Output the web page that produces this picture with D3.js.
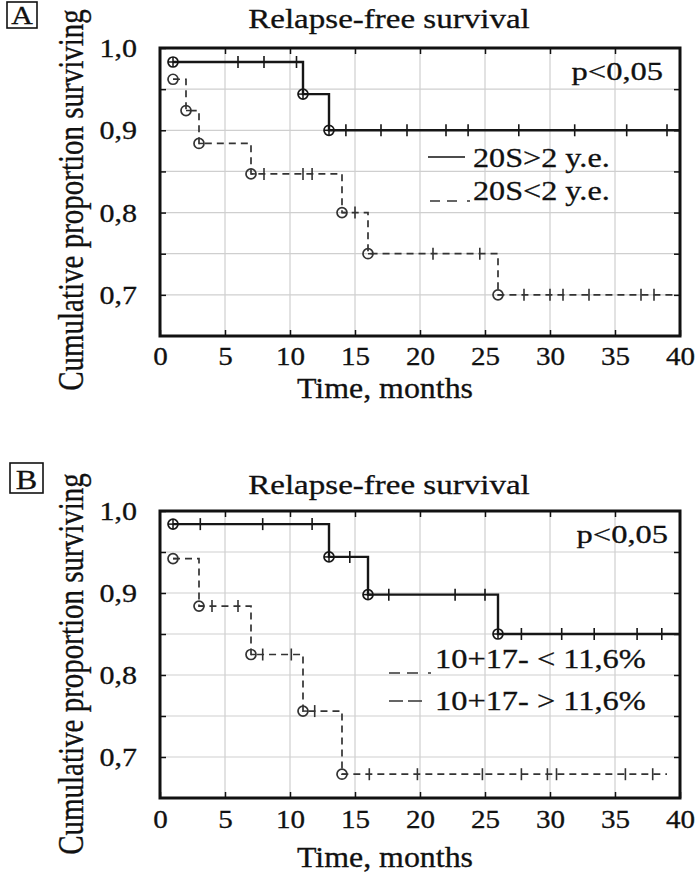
<!DOCTYPE html>
<html><head><meta charset="utf-8">
<script src="https://cdn.jsdelivr.net/npm/d3@7"></script>
<style>body{margin:0;background:#fff} svg{display:block} text{stroke:#111;stroke-width:0.3px}</style>
</head><body>
<script>
// ---------- data ----------
const timeTicks = [0, 5, 10, 15, 20, 25, 30, 35, 40];
const gridY = [0.7, 0.75, 0.8, 0.85, 0.9, 0.95];
const yTickValues = [0.7, 0.8, 0.9, 1.0];
const yTickLabels = ["0,7", "0,8", "0,9", "1,0"];
const titleText = "Relapse-free survival";
const xLabel = "Time, months";
const yLabel = "Cumulative proportion surviving";
const pText = "p<0,05";

// Panel A
const aSolidTimes = [1, 11, 13];
const aSolidSurv = [0.983, 0.944, 0.900];
const aSolidEnd = 40;
const aSolidCensor = [6, 8, 10.5, 14.3, 17, 19, 22, 23.7, 27.6, 31.9, 35.9, 39];
const aDashTimes = [1, 2, 3, 7, 14, 16, 26];
const aDashSurv = [0.962, 0.924, 0.884, 0.847, 0.800, 0.750, 0.700];
const aDashEnd = 39.8;
const aDashCensor = [8, 11, 11.7, 15, 21, 24.6, 28, 30, 31, 33, 37, 38];
const aLegend = ["20S>2 y.e.", "20S<2 y.e."];

// Panel B
const bSolidTimes = [1, 13, 16, 26];
const bSolidSurv = [0.984, 0.944, 0.898, 0.850];
const bSolidEnd = 40;
const bSolidCensor = [3.1, 7.9, 11.7, 14.6, 17.6, 22.7, 25, 27.8, 30.9, 33.4, 36.7, 38.6];
const bDashTimes = [1, 3, 7, 11, 14];
const bDashSurv = [0.942, 0.884, 0.825, 0.756, 0.679];
const bDashEnd = 39;
const bDashCensor = [4, 6, 7.9, 10.1, 11.9, 16.1, 19.8, 24.8, 27.8, 29.8, 30.5, 35.8, 37.9];
const bLegend = ["10+17- < 11,6%", "10+17- > 11,6%"];

// ---------- drawing ----------
const FONT = "'Liberation Serif','Times New Roman',Times,serif";
const W = 698, H = 875;
const svg = d3.select("body").append("svg").attr("width", W).attr("height", H)
  .style("font-family", FONT);

function txt(g, s, x, y, size, sx, anchor) {
  return g.append("text").text(s)
    .attr("transform", `translate(${x},${y}) scale(${sx},1)`)
    .attr("text-anchor", anchor || "start")
    .attr("font-size", size).attr("fill", "#111");
}

function drawPanel(cfg) {
  const g = svg.append("g");
  const x = d3.scaleLinear().domain([0, 40]).range([160, 680]);
  const y = d3.scaleLinear().domain([0.65, 1.0]).range([cfg.bottom, cfg.top]);

  // grid
  g.append("g").selectAll("line.gx").data(timeTicks.slice(1, -1)).join("line")
    .attr("x1", d => x(d)).attr("x2", d => x(d)).attr("y1", cfg.top).attr("y2", cfg.bottom)
    .attr("stroke", "#cfcfcf").attr("stroke-width", 1.2);
  g.append("g").selectAll("line.gy").data(gridY).join("line")
    .attr("y1", d => y(d)).attr("y2", d => y(d)).attr("x1", 160).attr("x2", 680)
    .attr("stroke", "#cfcfcf").attr("stroke-width", 1.2);

  // axes (inner ticks)
  const yAll = gridY.concat([1.0]);
  const bx = g.append("g").attr("transform", `translate(0,${cfg.bottom})`)
    .call(d3.axisBottom(x).tickValues(timeTicks).tickSize(-6).tickPadding(0).tickFormat(d => d));
  bx.selectAll("text").attr("font-family", FONT).attr("font-size", 26).attr("fill", "#111")
    .attr("y", cfg.xTickDy).attr("dy", 0).attr("transform", "scale(1.12,1)");
  g.append("g").attr("transform", `translate(0,${cfg.top})`)
    .call(d3.axisTop(x).tickValues(timeTicks.slice(1, -1)).tickSize(-6).tickFormat(""));
  const ly = g.append("g").attr("transform", "translate(160,0)")
    .call(d3.axisLeft(y).tickValues(yAll).tickSize(-6).tickFormat(d => {
      const i = yTickValues.findIndex(v => Math.abs(v - d) < 1e-9);
      return i >= 0 ? yTickLabels[i] : "";
    }));
  ly.selectAll("text").attr("font-family", FONT).attr("font-size", 25).attr("fill", "#111")
    .attr("x", -23 / 1.2).attr("dy", "0.34em").attr("transform", "scale(1.2,1)");
  g.append("g").attr("transform", "translate(680,0)")
    .call(d3.axisRight(y).tickValues(gridY).tickSize(-6).tickFormat(""));
  g.selectAll(".domain").remove();
  g.selectAll(".tick line").attr("stroke", "#111").attr("stroke-width", 1.5);

  // curves
  const line = d3.line().x(d => x(d[0])).y(d => y(d[1])).curve(d3.curveStepAfter);
  function survAt(times, surv, t) {
    let s = surv[0];
    times.forEach((tt, i) => { if (tt <= t) s = surv[i]; });
    return s;
  }
  function curve(times, surv, end, censor, style) {
    const pts = times.map((t, i) => [t, surv[i]]).concat([[end, surv[surv.length - 1]]]);
    const cg = g.append("g");
    cg.append("path").datum(pts).attr("d", line).attr("fill", "none")
      .attr("stroke", style.color).attr("stroke-width", style.width)
      .attr("stroke-dasharray", style.dash || null);
    cg.selectAll("line.c").data(censor).join("line")
      .attr("x1", d => x(d)).attr("x2", d => x(d))
      .attr("y1", d => y(survAt(times, surv, d)) - 6).attr("y2", d => y(survAt(times, surv, d)) + 6)
      .attr("stroke", style.color).attr("stroke-width", 1.6);
    const ev = times.map((t, i) => [t, surv[i]]);
    cg.selectAll("circle").data(ev).join("circle")
      .attr("cx", d => x(d[0])).attr("cy", d => y(d[1])).attr("r", 5)
      .attr("fill", "none").attr("stroke", style.color).attr("stroke-width", 1.7);
    cg.selectAll("line.h").data(ev).join("line")
      .attr("x1", d => x(d[0])).attr("x2", d => x(d[0]) + 5)
      .attr("y1", d => y(d[1])).attr("y2", d => y(d[1]))
      .attr("stroke", style.color).attr("stroke-width", 1.5);
    if (style.plus) {
      cg.selectAll("line.v").data(ev).join("line")
        .attr("x1", d => x(d[0])).attr("x2", d => x(d[0]))
        .attr("y1", d => y(d[1]) - 5).attr("y2", d => y(d[1]) + 5)
        .attr("stroke", style.color).attr("stroke-width", 1.5);
      cg.selectAll("line.h2").data(ev).join("line")
        .attr("x1", d => x(d[0]) - 5).attr("x2", d => x(d[0]) + 5)
        .attr("y1", d => y(d[1])).attr("y2", d => y(d[1]))
        .attr("stroke", style.color).attr("stroke-width", 1.5);
    }
  }
  curve(cfg.dash.times, cfg.dash.surv, cfg.dash.end, cfg.dash.censor,
    { color: "#333", width: 1.7, dash: "7,5" });
  curve(cfg.solid.times, cfg.solid.surv, cfg.solid.end, cfg.solid.censor,
    { color: "#161616", width: 2.4, plus: true });

  // frame
  g.append("rect").attr("x", 160).attr("y", cfg.top).attr("width", 520)
    .attr("height", cfg.bottom - cfg.top).attr("fill", "none")
    .attr("stroke", "#111").attr("stroke-width", 3);

  // texts
  txt(g, titleText, 389, cfg.titleY, 28, 1.18, "middle");
  txt(g, pText, cfg.pX, cfg.pY, 26, 1.25, "end");
  txt(g, xLabel, 385, cfg.xLabelY, 29, 1.1, "middle");
  g.append("text").text(yLabel)
    .attr("transform", `translate(83,${cfg.yLabelY}) rotate(-90) scale(1,1.2)`)
    .attr("text-anchor", "middle").attr("font-size", 29).attr("fill", "#111");

  // box label
  g.append("rect").attr("x", cfg.box[0]).attr("y", cfg.box[1]).attr("width", cfg.box[2])
    .attr("height", cfg.box[3]).attr("fill", "none").attr("stroke", "#111").attr("stroke-width", 1.6);
  txt(g, cfg.letter, cfg.box[0] + cfg.box[2] / 2, cfg.box[1] + cfg.box[3] - 4.5, cfg.letterSize, 1.15, "middle");

  // legend
  cfg.legendDraw(g);
  cfg.legend.forEach((s, i) => txt(g, s, cfg.legX, cfg.legY[i], cfg.legSize, cfg.legSx, "start"));
}

drawPanel({
  top: 48, bottom: 336, titleY: 28, pX: 663, pY: 80, xLabelY: 398, yLabelY: 200, xTickDy: 29,
  box: [7, 2, 30, 26], letter: "A", letterSize: 26,
  solid: { times: aSolidTimes, surv: aSolidSurv, end: aSolidEnd, censor: aSolidCensor },
  dash: { times: aDashTimes, surv: aDashSurv, end: aDashEnd, censor: aDashCensor },
  legend: aLegend, legX: 473, legY: [167, 200], legSize: 28, legSx: 1.15,
  legendDraw: g => {
    g.append("line").attr("x1", 428).attr("x2", 465).attr("y1", 157).attr("y2", 157)
      .attr("stroke", "#111").attr("stroke-width", 1.6);
    g.append("line").attr("x1", 430).attr("x2", 458).attr("y1", 201).attr("y2", 201)
      .attr("stroke", "#333").attr("stroke-width", 1.5).attr("stroke-dasharray", "10,7");
    g.append("line").attr("x1", 467).attr("x2", 470).attr("y1", 201).attr("y2", 201)
      .attr("stroke", "#333").attr("stroke-width", 1.5);
  }
});

drawPanel({
  top: 511, bottom: 798, titleY: 494, pX: 668, pY: 543, xLabelY: 867, yLabelY: 664, xTickDy: 30,
  box: [10, 463, 33, 30], letter: "B", letterSize: 28,
  solid: { times: bSolidTimes, surv: bSolidSurv, end: bSolidEnd, censor: bSolidCensor },
  dash: { times: bDashTimes, surv: bDashSurv, end: bDashEnd, censor: bDashCensor },
  legend: bLegend, legX: 435, legY: [668, 710], legSize: 27, legSx: 1.2,
  legendDraw: g => {
    g.append("line").attr("x1", 389).attr("x2", 418).attr("y1", 673).attr("y2", 673)
      .attr("stroke", "#333").attr("stroke-width", 1.5).attr("stroke-dasharray", "11,7");
    g.append("line").attr("x1", 428).attr("x2", 431).attr("y1", 673).attr("y2", 673)
      .attr("stroke", "#333").attr("stroke-width", 1.5);
    g.append("line").attr("x1", 389).attr("x2", 422).attr("y1", 701).attr("y2", 701)
      .attr("stroke", "#333").attr("stroke-width", 1.5).attr("stroke-dasharray", "14,5");
  }
});
</script>
</body></html>
